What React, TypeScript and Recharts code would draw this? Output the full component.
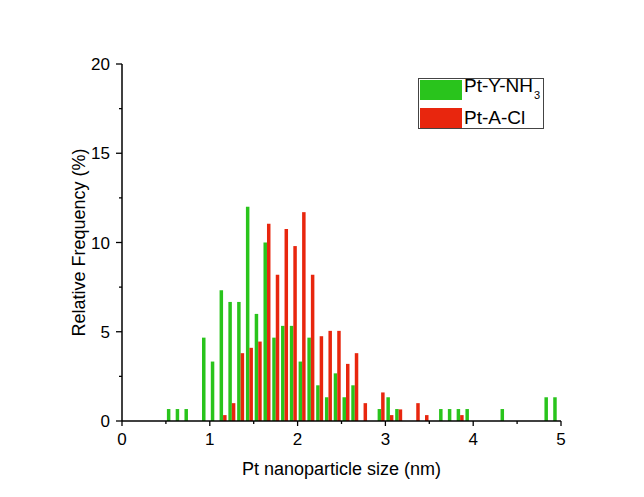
import * as React from 'react';
import { BarChart, Bar, XAxis, YAxis, Legend } from 'recharts';

// bin centres (nm) that hold at least one particle
const sizes = [
  0.55, 0.65, 0.75, 0.95, 1.05, 1.15, 1.25, 1.35, 1.45, 1.55, 1.65, 1.75,
  1.85, 1.95, 2.05, 2.15, 2.25, 2.35, 2.45, 2.55, 2.65, 2.75, 2.95, 3.05,
  3.15, 3.35, 3.45, 3.65, 3.75, 3.85, 3.95, 4.35, 4.85, 4.95,
];
// relative frequency (%)
const ptYNH3 = [
  0.67, 0.67, 0.67, 4.67, 3.33, 7.33, 6.67, 6.67, 12.0, 6.0, 10.0, 4.67,
  5.33, 5.33, 3.33, 4.67, 2.0, 1.33, 2.67, 1.33, 2.0, 0, 0.67, 1.33,
  0.67, 0, 0, 0.67, 0.67, 0.67, 0.67, 0.67, 1.33, 1.33,
];
const ptACl = [
  0, 0, 0, 0, 0, 0.33, 1.0, 3.8, 4.1, 4.45, 11.05, 8.2,
  10.75, 9.8, 11.7, 8.2, 4.75, 5.05, 5.05, 3.2, 3.8, 1.0, 1.6, 0.33,
  0.65, 1.0, 0.33, 0, 0, 0.33, 0, 0, 0, 0,
];

const xTicks = [0, 0.5, 1, 1.5, 2, 2.5, 3, 3.5, 4, 4.5, 5];
const yTicks = [0, 2.5, 5, 7.5, 10, 12.5, 15, 17.5, 20];

const FONT = 'Arial, "Liberation Sans", sans-serif';
const GREEN = '#29c41c';
const RED = '#e8260e';

const data = sizes.map((s, i) => ({ size: s, green: ptYNH3[i], red: ptACl[i] }));

const XTick = (props: any) => {
  const { x, y, payload } = props;
  const major = Number.isInteger(payload.value);
  return (
    <g>
      <line x1={x} x2={x} y1={y} y2={y + (major ? 5 : 3)} stroke="#000" strokeWidth={1.3} />
      {major && (
        <text x={x} y={y + 24} textAnchor="middle" fontSize={17} fontFamily={FONT} fill="#000">
          {payload.value}
        </text>
      )}
    </g>
  );
};

const YTick = (props: any) => {
  const { x, y, payload } = props;
  const major = Number.isInteger(payload.value);
  return (
    <g>
      <line x1={x} x2={x - (major ? 6 : 3)} y1={y} y2={y} stroke="#000" strokeWidth={1.3} />
      {major && (
        <text x={x - 12} y={y + 6} textAnchor="end" fontSize={17} fontFamily={FONT} fill="#000">
          {payload.value}
        </text>
      )}
    </g>
  );
};

const YTitle = (props: any) => {
  const vb = props.viewBox;
  const cx = vb.x + 71;
  const cy = vb.y + vb.height / 2;
  return (
    <text x={cx} y={cy} transform={`rotate(-90 ${cx} ${cy})`} textAnchor="middle"
      dominantBaseline="central" fontSize={18} fontFamily={FONT} fill="#000">
      Relative Frequency (%)
    </text>
  );
};

const LegendBox = (props: any) => {
  const items = [...(props.payload || [])].sort((a: any, b: any) =>
    a.dataKey === 'green' ? -1 : b.dataKey === 'green' ? 1 : 0);
  return (
    <div style={{
      border: '1px solid #444', background: '#fff', width: 126, height: 51,
      boxSizing: 'border-box', padding: '1px 1px', fontFamily: FONT, fontSize: 19, color: '#000',
    }}>
      {items.map((it: any, i: number) => (
        <div key={i} style={{ display: 'flex', alignItems: 'center', height: 20, marginBottom: i === 0 ? 8 : 0 }}>
          <div style={{ width: 42, height: 20, background: it.color, marginRight: 2 }} />
          <span style={{ lineHeight: '20px', whiteSpace: 'nowrap' }}>
            {it.value === 'Pt-Y-NH3'
              ? (<>Pt-Y-NH<sub style={{ fontSize: 11, verticalAlign: -7, marginLeft: 1 }}>3</sub></>)
              : it.value}
          </span>
        </div>
      ))}
    </div>
  );
};

export default function App() {
  return (
    <BarChart width={636} height={489} data={data}
      margin={{ top: 56, right: 83, left: 0, bottom: 0 }}
      barGap={0} barSize={3.5}>
      <XAxis type="number" dataKey="size" domain={[0, 5]} ticks={xTicks} interval={0}
        allowDataOverflow height={76} tickLine={false} tickSize={0} tickMargin={0}
        tick={<XTick />} axisLine={{ stroke: '#000', strokeWidth: 1.5 }}
        label={{ value: 'Pt nanoparticle size (nm)', position: 'insideBottom', offset: 22,
          fontSize: 18, fontFamily: FONT, fill: '#000' }} />
      <YAxis type="number" domain={[0, 20]} ticks={yTicks} interval={0} width={114}
        tickLine={false} tickSize={0} tickMargin={0} tick={<YTick />}
        axisLine={{ stroke: '#000', strokeWidth: 1.5 }}
        label={<YTitle />} />
      <Legend content={<LegendBox />} layout="horizontal" verticalAlign="middle" align="center"
        wrapperStyle={{ position: 'absolute', left: 410, top: 70, width: 'auto', height: 'auto' }} />
      <Bar dataKey="green" name="Pt-Y-NH3" fill={GREEN} isAnimationActive={false} />
      <Bar dataKey="red" name="Pt-A-Cl" fill={RED} isAnimationActive={false} />
    </BarChart>
  );
}
